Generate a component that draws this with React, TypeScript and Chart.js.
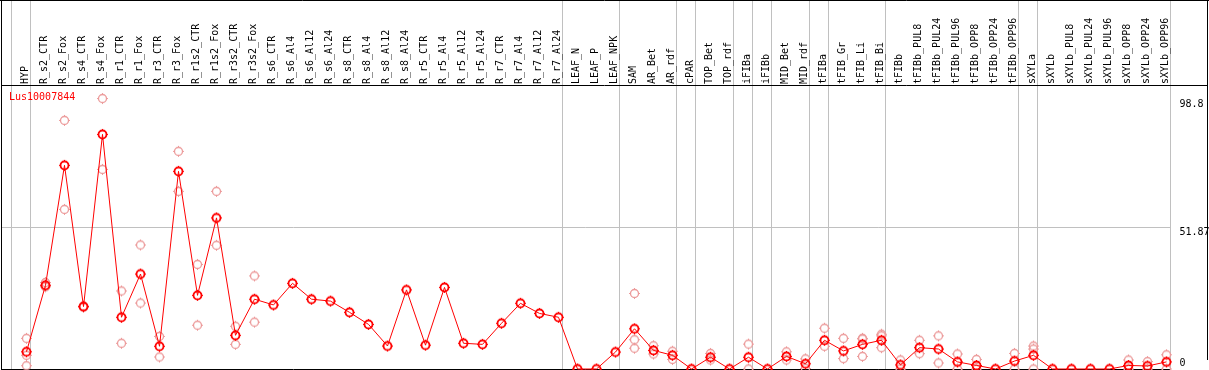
import React, { useEffect, useRef } from "react";
import { Chart, registerables } from "chart.js";

Chart.register(...registerables);

const geneName = "Lus10007844";

const categories = [
  "HYP", "R_s2_CTR", "R_s2_Fox", "R_s4_CTR", "R_s4_Fox", "R_r1_CTR", "R_r1_Fox",
  "R_r3_CTR", "R_r3_Fox", "R_r1s2_CTR", "R_r1s2_Fox", "R_r3s2_CTR", "R_r3s2_Fox",
  "R_s6_CTR", "R_s6_Al4", "R_s6_Al12", "R_s6_Al24", "R_s8_CTR", "R_s8_Al4", "R_s8_Al12",
  "R_s8_Al24", "R_r5_CTR", "R_r5_Al4", "R_r5_Al12", "R_r5_Al24", "R_r7_CTR", "R_r7_Al4",
  "R_r7_Al12", "R_r7_Al24", "LEAF_N", "LEAF_P", "LEAF_NPK", "SAM", "AR_Bet", "AR_rdf",
  "cPAR", "TOP_Bet", "TOP_rdf", "iFIBa", "iFIBb", "MID_Bet", "MID_rdf", "tFIBa",
  "tFIB_Gr", "tFIB_Li", "tFIB_Bi", "tFIBb", "tFIBb_PUL8", "tFIBb_PUL24", "tFIBb_PUL96",
  "tFIBb_OPP8", "tFIBb_OPP24", "tFIBb_OPP96", "sXYLa", "sXYLb", "sXYLb_PUL8",
  "sXYLb_PUL24", "sXYLb_PUL96", "sXYLb_OPP8", "sXYLb_OPP24", "sXYLb_OPP96",
];

const meanValues = [
  6.3, 30.6, 74.4, 22.8, 85.7, 18.9, 34.7, 8.3, 72.2, 26.9, 55.2, 12.3, 25.5,
  23.4, 31.3, 25.5, 24.8, 20.7, 16.3, 8.4, 28.9, 8.7, 29.8, 9.4, 9.0, 16.7, 24.0,
  20.3, 18.9, 0, 0, 6.2, 14.7, 6.8, 5.0, 0, 4.3, 0, 4.3, 0, 4.6, 1.9, 10.5,
  6.6, 9.0, 10.5, 1.5, 7.8, 7.3, 2.6, 1.3, 0, 2.9, 5.0, 0, 0,
  0, 0, 1.3, 1.1, 2.6,
];

const rep1 = [
  11.2, 31.6, 90.8, 23.0, 98.8, 28.5, 45.3, 11.9, 79.5, 38.2, 64.9, 15.6, 34.0,
  null, null, null, null, null, null, null, null, null, null, null, null, null, null,
  null, null, null, null, null, 27.6, 8.5, 6.5, null, 5.7, null, 9.1, null, 6.3, 3.7, 14.9,
  11.2, 11.2, 12.7, 3.3, 10.5, 12.1, 5.5, 3.5, null, 5.7, 8.4, null, null,
  null, null, 3.3, 2.7, 5.2,
];

const rep2 = [
  5.0, 30.0, 58.3, 22.6, 72.9, 9.4, 24.1, 4.4, 64.9, 16.0, 45.2, 9.0, 17.1,
  null, null, null, null, null, null, null, null, null, null, null, null, null, null,
  null, null, null, null, null, 10.7, 5.5, 3.5, null, 3.3, null, 0, null, 3.3, 0.2, 8.3,
  3.8, 4.6, 12.1, 0, 5.6, 2.2, 0, 0, null, 0, 7.3, null, null,
  null, null, 0, 0, 0,
];

const rep3 = [
  1.2, 30.3, null, null, null, null, null, null, null, null, null, null, null,
  null, null, null, null, null, null, null, null, null, null, null, null, null, null,
  null, null, null, null, null, 7.6, null, null, null, null, null, null, null, null, null, null,
  null, 11.0, 7.8, null, null, null, null, null, null, null, 0, null, null,
  null, null, null, null, null,
];

// indices after which a grey group separator is drawn
const groupEnds = [-1, 0, 28, 31, 34, 35, 37, 38, 39, 41, 42, 45, 52, 53, 60];

const maxValue = 98.8;
const yTicks = [98.8, 51.87, 0];

function makeMarker(color: string, lw: number) {
  const c = document.createElement("canvas");
  c.width = 13;
  c.height = 13;
  const g = c.getContext("2d")!;
  g.strokeStyle = color;
  g.lineWidth = lw;
  g.beginPath();
  g.arc(6.5, 6.5, 4, 0, Math.PI * 2);
  g.stroke();
  g.fillStyle = color;
  g.fillRect(6, 1, 1, 1);
  g.fillRect(6, 11, 1, 1);
  g.fillRect(1, 6, 1, 1);
  g.fillRect(11, 6, 1, 1);
  return c;
}

const toPoints = (arr: (number | null)[]) =>
  arr.map((v, i) => (v === null ? null : { x: i, y: v })).filter((p) => p !== null) as { x: number; y: number }[];

const FONT = "10px 'DejaVu Sans Mono', monospace";

const decoPlugin = {
  id: "deco",
  beforeDatasetsDraw(chart: any) {
    const { ctx, scales } = chart;
    const xs = scales.x;
    const ys = scales.y;
    const W = chart.width;
    const bottom = Math.round(ys.getPixelForValue(0));
    const line = (x1: number, y1: number, x2: number, y2: number) => {
      ctx.beginPath();
      ctx.moveTo(x1, y1);
      ctx.lineTo(x2, y2);
      ctx.stroke();
    };
    ctx.save();
    // grey separators
    ctx.strokeStyle = "#c0c0c0";
    ctx.lineWidth = 1;
    let lastSep = 0;
    groupEnds.forEach((g) => {
      const px = Math.floor(xs.getPixelForValue(g) + 4) + 0.5;
      lastSep = px;
      line(px, 0, px, bottom);
    });
    const midY = Math.round(ys.getPixelForValue(yTicks[1])) + 0.5;
    line(1, midY, lastSep, midY);

    // black frame
    ctx.strokeStyle = "#000";
    line(0, 0.5, W, 0.5);
    line(1.5, 0, 1.5, 370);
    line(W - 1.5, 0, W - 1.5, 360);
    line(1, 85.5, W - 1, 85.5);
    line(1, bottom + 0.5, lastSep, bottom + 0.5);

    // category labels (rotated)
    ctx.font = FONT;
    ctx.fillStyle = "#000";
    ctx.textAlign = "left";
    ctx.textBaseline = "middle";
    categories.forEach((c, i) => {
      ctx.save();
      ctx.translate(xs.getPixelForValue(i) - 1, 84);
      ctx.rotate(-Math.PI / 2);
      ctx.fillText(c, 0, 0);
      ctx.restore();
    });

    // right value labels
    const labX = lastSep + 9;
    ctx.textBaseline = "top";
    ctx.fillText(String(yTicks[0]), labX, ys.getPixelForValue(yTicks[0]) + 1);
    ctx.fillText(String(yTicks[1]), labX, ys.getPixelForValue(yTicks[1]) + 0.5);
    ctx.textBaseline = "bottom";
    ctx.fillText(String(yTicks[2]), labX, ys.getPixelForValue(yTicks[2]) - 1);

    // gene name
    ctx.fillStyle = "#ff0000";
    ctx.textBaseline = "middle";
    ctx.fillText(geneName, 9, 97);
    ctx.restore();
  },
};

export default function App() {
  const ref = useRef<HTMLCanvasElement | null>(null);
  useEffect(() => {
    if (!ref.current) return;
    const mainMarker = makeMarker("#ff0000", 1.8);
    const repMarker = makeMarker("#ec9a9a", 1.3);
    const repDataset = (arr: (number | null)[]) => ({
      data: toPoints(arr),
      showLine: false,
      pointStyle: repMarker,
      pointRadius: 4,
      borderColor: "#ec9a9a",
      backgroundColor: "#ec9a9a",
      clip: false as any,
    });
    const chart = new Chart(ref.current, {
      type: "scatter",
      data: {
        datasets: [
          {
            data: toPoints(meanValues),
            showLine: true,
            borderColor: "#ff0000",
            borderWidth: 1,
            pointStyle: mainMarker,
            pointRadius: 4,
            backgroundColor: "#ff0000",
            tension: 0,
            clip: false as any,
          },
          repDataset(rep1),
          repDataset(rep2),
          repDataset(rep3),
        ],
      },
      options: {
        responsive: false,
        animation: false,
        events: [],
        layout: { autoPadding: false, padding: { top: 85, bottom: 1, left: 1, right: 2 } },
        plugins: { legend: { display: false }, tooltip: { enabled: false } },
        scales: {
          x: { type: "linear", display: false, min: -25.5 / 19, max: 60 + 40.5 / 19 },
          y: { type: "linear", display: false, min: 0, max: maxValue * 1.05 },
        },
      },
      plugins: [decoPlugin],
    });
    return () => chart.destroy();
  }, []);
  return (
    <div style={{ position: "fixed", left: 0, top: 0, width: 1209, height: 370, background: "#fff" }}>
      <canvas ref={ref} width={1209} height={370} style={{ display: "block", width: 1209, height: 370 }} />
    </div>
  );
}
